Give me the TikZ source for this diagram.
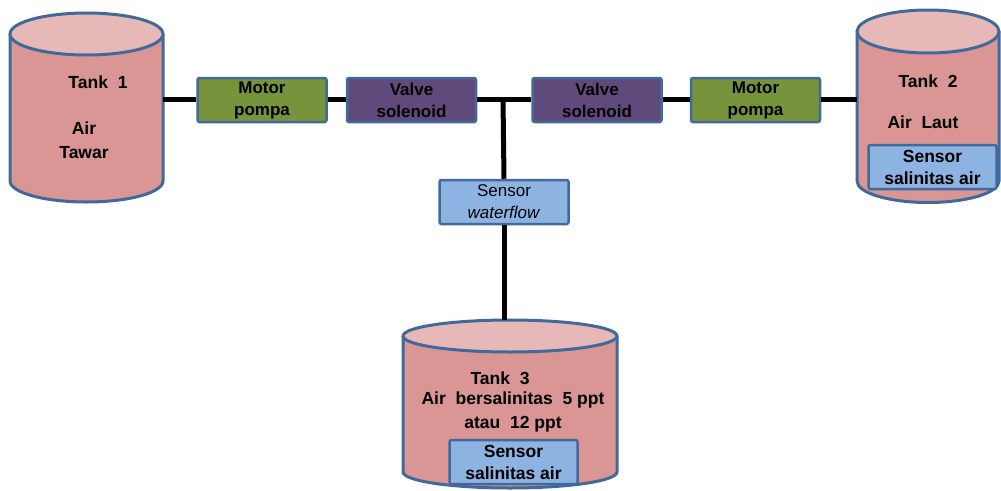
\documentclass[tikz,border=0pt]{standalone}
\usepackage{fontspec}
\setmainfont{Liberation Sans}
\definecolor{motorc}{HTML}{77933C}
\definecolor{valvec}{HTML}{604A7B}
\definecolor{sensc}{HTML}{8DB3E2}
\definecolor{tankbody}{HTML}{D99694}
\definecolor{tanktop}{HTML}{E6B9B8}
\definecolor{bordc}{HTML}{41699A}
\tikzset{
  box/.style={draw=bordc, line width=2.5pt, rounded corners=2pt, minimum width=129pt, minimum height=44pt, inner sep=0pt, align=center, font=\fontsize{17}{22}\selectfont\bfseries},
  motor/.style={box, fill=motorc},
  valve/.style={box, fill=valvec},
  sensorbox/.style={box, fill=sensc},
  pipe/.style={line width=5pt, black},
  tankline/.style={draw=bordc, line width=3pt},
  tanktext/.style={align=center, inner sep=0pt, font=\fontsize{17.5}{24}\selectfont\bfseries},
}
\newcommand\mytank[6]{%
  \fill[tankbody] (#1-#4,#2) -- (#1-#4,#3) arc[start angle=180,end angle=0,x radius=#4,y radius=#5] -- (#1+#4,#2) -- cycle;
  \draw[tankline] (#1-#4,#2) -- (#1-#4,#3) arc[start angle=180,end angle=0,x radius=#4,y radius=#5] -- (#1+#4,#2);
  \filldraw[tankline, fill=tanktop] (#1,#2) ellipse[x radius=#4, y radius=#5];
  \node[inner sep=0pt, minimum width={2*#4*1pt}, minimum height={(#3-#2+2*#5)*1pt}] (#6) at (#1,{(#2+#3)/2}) {};
}
\begin{document}
\begin{tikzpicture}[x=1pt,y=-1pt]
\useasboundingbox (0,0) rectangle (1001,490);
% tanks
\mytank{86.5}{34}{181}{76.5}{21}{t1}
\mytank{928}{31.5}{181}{71}{21.5}{t2}
\mytank{510}{336}{472}{107}{16}{t3}
% components
\node[motor] (m1) at (262,100) {Motor\\pompa};
\node[valve] (v1) at (411.5,100) {Valve\\solenoid};
\node[valve] (v2) at (597,100) {Valve\\solenoid};
\node[motor] (m2) at (755.5,100) {Motor\\pompa};
\node[sensorbox, font=\fontsize{17}{22}\selectfont] (sw) at (504,202) {Sensor\\\textit{waterflow}};
\coordinate (j) at (503,99);
% pipes
\draw[pipe] (t1.east |- 0,99) -- (m1.west |- 0,99);
\draw[pipe] (m1.east |- 0,99) -- (v1.west |- 0,99);
\draw[pipe] (v1.east |- 0,99) -- (v2.west |- 0,99);
\draw[pipe] (v2.east |- 0,99) -- (m2.west |- 0,99);
\draw[pipe] (m2.east |- 0,99) -- (t2.west |- 0,99);
\draw[pipe] (j) -- (sw.north);
\draw[pipe] (sw.south) -- (sw.south |- t3.north);
% tank texts
\node[tanktext] (t1a) at (98,82) {Tank\ \ 1};
\node[tanktext] (t1b) at (84,140) {Air\\Tawar};
\node[tanktext] (t2a) at (928,81) {Tank\ \ 2};
\node[tanktext] (t2b) at (923,122) {Air\ \ Laut};
\node[sensorbox, minimum width=128pt, minimum height=44pt, font=\fontsize{17.5}{22}\selectfont\bfseries] (s2) at (932.5,167) {Sensor\\salinitas air};
\node[tanktext] (t3a) at (500,378) {Tank\ \ 3};
\node[tanktext] (t3b) at (513,412) {Air\ \ bersalinitas\ \ 5 ppt\\atau\ \ 12 ppt};
\node[sensorbox, minimum width=128pt, minimum height=44pt, font=\fontsize{17.5}{22}\selectfont\bfseries] (s3) at (513.5,462) {Sensor\\salinitas air};
\end{tikzpicture}
\end{document}
